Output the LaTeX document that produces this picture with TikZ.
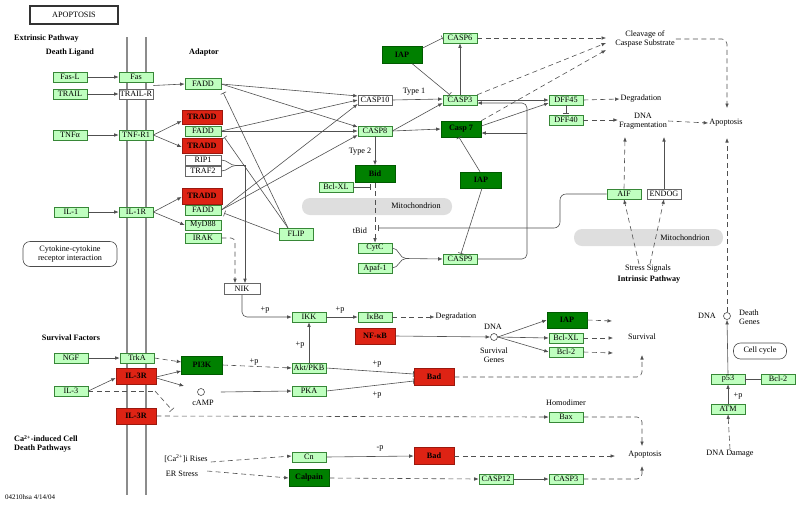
\documentclass[tikz,border=0pt]{standalone}
\usepackage{fontspec}
\setmainfont{Liberation Serif}
\usetikzlibrary{arrows.meta,calc}
\definecolor{lgreen}{RGB}{191,255,191}
\definecolor{bgreen}{RGB}{55,135,55}
\definecolor{kred}{RGB}{222,35,20}
\definecolor{dgreen}{RGB}{0,128,0}
\definecolor{lc}{RGB}{80,80,80}
\definecolor{mitogray}{RGB}{222,222,222}
\newcommand\myfs{\fontsize{8.2}{8.6}\selectfont}
\newcommand\myfsb{\fontsize{8.2}{8.6}\selectfont\bfseries}
\begin{document}
\begin{tikzpicture}[x=1pt,y=-1pt,
  box/.style={draw=bgreen, line width=0.6pt, minimum width=34, minimum height=10, inner sep=0pt, font=\myfs},
  gn/.style={box, fill=lgreen},
  wn/.style={box, fill=white, draw=black!60},
  rdn/.style={box, fill=kred, draw=kred!70!black, minimum width=40, minimum height=16, font=\myfsb},
  dgn/.style={box, fill=dgreen, draw=dgreen!70!black, minimum width=40, minimum height=16, font=\myfsb},
  lbl/.style={inner sep=1pt, font=\myfs, align=center},
  hd/.style={inner sep=1pt, font=\myfsb, align=left},
  rbox/.style={draw=black!70, line width=0.6pt, rounded corners=7pt, font=\myfs, align=center, inner sep=1pt},
  ln/.style={draw=lc, line width=0.6pt},
  ar/.style={ln, -{Latex[length=4.5pt,width=3.6pt]}},
  da/.style={ar, dash pattern=on 5pt off 3.5pt},
  dl/.style={ln, dash pattern=on 5pt off 3.5pt},
  inh/.style={ln, -{Bar[width=6pt]}},
  memb/.style={draw=black!45, line width=2.6pt},
  circ/.style={circle, draw=black!70, line width=0.6pt, minimum size=7, inner sep=0pt}
]
\useasboundingbox (0,0) rectangle (800,507);
% membrane
\draw[memb] (127,37) -- (127,495);
\draw[memb] (146,37) -- (146,495);
% mitochondria
\fill[mitogray, rounded corners=8pt] (302,198) rectangle (452,215);
\fill[mitogray, rounded corners=8pt] (574,229) rectangle (723,246);
\node[lbl] (mito1) at (416,206) {Mitochondrion};
\node[lbl] (mito2) at (685,238) {Mitochondrion};

% title and headings
\node[draw=black!80, line width=1.1pt, minimum width=88, minimum height=18, font=\myfs] (title) at (74,15) {APOPTOSIS};
\node[hd, anchor=west] (extp) at (13,39) {Extrinsic Pathway};
\node[hd] (deathlig) at (70,53) {Death Ligand};
\node[hd] (adaptor) at (204,53) {Adaptor};
\node[hd] (survf) at (71,338) {Survival Factors};
\node[hd, anchor=north west, font=\myfsb] (cadp) at (13,434) {Ca\textsuperscript{2+}-induced Cell\\Death Pathways};
\node[lbl, anchor=west, font=\fontsize{7}{8}\selectfont] (code) at (4,497) {04210hsa 4/14/04};
\node[rbox, minimum width=94, minimum height=25] (cyto) at (70,254) {Cytokine-cytokine\\receptor interaction};
\node[rbox, minimum width=53, minimum height=16] (cellcyc) at (760,351) {Cell cycle};

% ligands / receptors
\node[gn] (fasl) at (70,77) {Fas-L};
\node[gn] (trail) at (70,94) {TRAIL};
\node[gn] (tnfa) at (70,135) {TNFα};
\node[gn] (fas) at (136,77) {Fas};
\node[wn] (trailr) at (136,94) {TRAIL-R};
\node[gn] (tnfr1) at (136,135) {TNF-R1};
\node[gn] (il1) at (71,212) {IL-1};
\node[gn] (il1r) at (136,212) {IL-1R};
\node[gn] (ngf) at (71,358) {NGF};
\node[gn] (trka) at (137,358) {TrkA};
\node[rdn] (il3r) at (136,376) {IL-3R};
\node[gn] (il3) at (71,391) {IL-3};
\node[rdn] (il3rb) at (136,416) {IL-3R};

% adaptors
\node[gn, minimum width=36, minimum height=11] (fadd1) at (203,84) {FADD};
\node[rdn, minimum height=14] (tradd1) at (202,117) {TRADD};
\node[gn, minimum width=36] (fadd2) at (203,131) {FADD};
\node[rdn, minimum height=15] (tradd2) at (202,146) {TRADD};
\node[wn, minimum width=36] (rip1) at (203,160) {RIP1};
\node[wn, minimum width=36] (traf2) at (203,171) {TRAF2};
\node[rdn, minimum height=16] (tradd3) at (202,196) {TRADD};
\node[gn, minimum width=36] (fadd3) at (203,210) {FADD};
\node[gn, minimum width=36] (myd88) at (203,225) {MyD88};
\node[gn, minimum width=36] (irak) at (203,238) {IRAK};
\node[gn, minimum height=12] (flip) at (296,234) {FLIP};
\node[wn, minimum width=36, minimum height=11] (nik) at (242,289) {NIK};
\node[gn] (ikk) at (309,317) {IKK};
\node[gn] (ikba) at (375,317) {IκBα};
\node[rdn] (nfkb) at (375,336) {NF-κB};

% caspases
\node[wn] (casp10) at (375,100) {CASP10};
\node[gn] (casp8) at (375,131) {CASP8};
\node[dgn, minimum height=17] (bid) at (375,174) {Bid};
\node[gn] (bclxl1) at (336,187) {Bcl-XL};
\node[gn] (cytc) at (375,248) {CytC};
\node[gn] (apaf1) at (375,268) {Apaf-1};
\node[gn] (casp9) at (460,259) {CASP9};
\node[dgn, minimum width=41] (iap2) at (481,180) {IAP};
\node[dgn, minimum height=17] (iap1) at (402,55) {IAP};
\node[gn] (casp6) at (460,38) {CASP6};
\node[gn] (casp3) at (460,100) {CASP3};
\node[dgn] (casp7) at (461,129) {Casp 7};
\node[gn] (dff45) at (566,100) {DFF45};
\node[gn] (dff40) at (566,120) {DFF40};
\node[gn] (aif) at (624,194) {AIF};
\node[wn] (endog) at (664,194) {ENDOG};

% right side
\node[gn] (p53) at (728,379) {p53};
\node[gn] (bcl2r) at (778,379) {Bcl-2};
\node[gn] (atm) at (728,409) {ATM};
\node[circ] (dna2) at (727,316) {};
\node[lbl] (dna2t) at (707,316) {DNA};
\node[lbl, anchor=west, align=left] (dgenes) at (738,317) {Death\\Genes};
\node[lbl] (pp7) at (738,396) {+p};
\node[lbl] (dnad) at (730,454) {DNA Damage};

% survival area
\node[dgn] (iap3) at (567,320) {IAP};
\node[gn] (bclxl2) at (566,338) {Bcl-XL};
\node[gn] (bcl2) at (566,352) {Bcl-2};
\node[circ] (dna1) at (494,337) {};
\node[lbl] (dna1t) at (493,327) {DNA};
\node[lbl] (sgenes) at (494,355) {Survival\\Genes};
\node[lbl] (degr2) at (456,317) {Degradation};
\node[rdn, minimum height=17] (bad1) at (434,377) {Bad};
\node[rdn, minimum height=17] (bad2) at (434,456) {Bad};
\node[gn] (bax) at (566,417) {Bax};
\node[lbl] (homod) at (566,403) {Homodimer};
\node[gn] (casp12) at (496,479) {CASP12};
\node[gn] (casp3b) at (566,479) {CASP3};
\node[lbl] (surv) at (642,337) {Survival};
\node[lbl] (apop3) at (645,455) {Apoptosis};

% PI3K area
\node[dgn, minimum width=41, minimum height=18] (pi3k) at (202,365) {PI3K};
\node[gn] (akt) at (309,368) {Akt/PKB};
\node[gn] (pka) at (309,391) {PKA};
\node[circ] (camp) at (201,392) {};
\node[lbl] (campt) at (203,403) {cAMP};
\node[gn] (cn) at (309,457) {Cn};
\node[dgn, minimum height=17] (calpain) at (309,478) {Calpain};
\node[lbl] (cari) at (186,459) {[Ca\textsuperscript{2+}]i Rises};
\node[lbl] (er) at (182,474) {ER Stress};

% text labels upper right
\node[lbl] (clv) at (645,39) {Cleavage of\\Caspase Substrate};
\node[lbl] (degr1) at (641,99) {Degradation};
\node[lbl] (dnaf) at (643,121) {DNA\\Fragmentation};
\node[lbl] (apop1) at (726,123) {Apoptosis};
\node[lbl] (ss) at (648,269) {Stress Signals};
\node[hd] (intp) at (649,280) {Intrinsic Pathway};
\node[lbl] (type1) at (414,92) {Type 1};
\node[lbl] (type2) at (360,152) {Type 2};
\node[lbl] (tbid) at (360,231) {tBid};
\node[lbl] (pp1) at (265,310) {+p};
\node[lbl] (pp2) at (340,310) {+p};
\node[lbl] (pp3) at (300,345) {+p};
\node[lbl] (pp4) at (254,362) {+p};
\node[lbl] (pp5) at (377,364) {+p};
\node[lbl] (pp6) at (377,395) {+p};
\node[lbl] (mp1) at (380,448) {-p};

% helper coordinates
\coordinate (rtj) at (236,165.5);
\coordinate (flt) at (288,228);
\coordinate (il3t) at (172,410);
\coordinate (il3k) at (155,391);
\coordinate (il3rend) at (184,386);
\coordinate (c1) at (606,38);
\coordinate (c2) at (606,43);
\coordinate (c3) at (606,50);
\coordinate (apt) at (727,108);
\coordinate (apb) at (727,138);
\coordinate (dfa) at (625,137);
\coordinate (dfb) at (664,137);
\coordinate (tbj) at (560,228);
\coordinate (tbt) at (378,228);
\coordinate (bxt) at (371,187);
\coordinate (cj) at (406,258.5);
\coordinate (lpb) at (527,259);
\coordinate (lpt) at (527,103);
\coordinate (lpm) at (527,133);
\coordinate (sv1) at (612,321);
\coordinate (sv2) at (613,338);
\coordinate (sv3) at (613,353);
\coordinate (sv4) at (642,355);
\coordinate (ap1c) at (642,446);
\coordinate (ap2) at (615,456);
\coordinate (ap3) at (642,466);

% ligand -> receptor
\draw[ar] (fasl) -- (fas);
\draw[ar] (trail) -- (trailr);
\draw[ar] (tnfa) -- (tnfr1);
\draw[ar] (il1) -- (il1r);
\draw[ar] (ngf) -- (trka);
\draw[ar] ($(fas.south east)!0.5!(trailr.north east)$) -- (fadd1.west);
\draw[ar] (tnfr1.east) -- ($(tradd1.west)+(0,4)$);
\draw[ar] (tnfr1.east) -- ($(tradd2.west)+(0,1)$);
\draw[ar] (il1r.east) -- ($(tradd3.west)+(0,1)$);
\draw[ar] (il1r.east) -- (myd88.west);

% FADD -> caspases
\draw[ar] (fadd1.east) -- ($(casp10.west)+(0,-4)$);
\draw[ar] (fadd1.east) -- ($(casp8.west)+(0,-4)$);
\draw[ar] (fadd2.east) -- (casp10.west);
\draw[ar] (fadd2.east) -- (casp8.west);
\draw[ar] (fadd3.east) -- ($(casp10.west)+(0,4)$);
\draw[ar] (fadd3.east) -- ($(casp8.west)+(0,4)$);
% FLIP inhibition
\draw[inh] (flt) -- ($(fadd1.south east)+(2,3)$);
\draw[inh] (flt) -- ($(fadd2.south east)+(3,1)$);
\draw[inh] (flip.west) -- ($(fadd3.south east)+(3,-2)$);
% RIP1/TRAF2 -> NIK
\draw[ln] (rip1.east) to[out=0,in=180] (rtj);
\draw[ln] (traf2.east) to[out=0,in=180] (rtj);
\draw[ar] (rtj) -| ($(nik.north)+(3,0)$);
\draw[da, rounded corners=4pt] (irak.east) -| ($(nik.north)+(-7,0)$);
\draw[ar, rounded corners=5pt] (nik.south) |- (ikk.west);
\draw[ar] (ikk) -- (ikba);
\draw[da] (ikba.east) -- (degr2.west);
\draw[ar] (akt.north) -- (ikk.south);
\draw[ar] (nfkb.east) -- (dna1.west);
\draw[ar] (dna1.east) -- (iap3.west);
\draw[ar] (dna1.east) -- (bclxl2.west);
\draw[ar] (dna1.east) -- (bcl2.west);
\draw[da] (iap3.east) -- (sv1);
\draw[da] (bclxl2.east) -- (sv2);
\draw[da] (bcl2.east) -- (sv3);
\draw[da, rounded corners=5pt] (bad1.east) -| (sv4);

% survival factors
\draw[da] (trka.east) -- ($(pi3k.west)+(0,-3)$);
\draw[ar] ($(il3r.east)+(0,1)$) -- ($(pi3k.west)+(0,6)$);
\draw[ar] ($(il3r.east)+(0,2)$) -- (il3rend);
\draw[ar] (il3.east) -- ($(il3r.west)+(0,2)$);
\draw[dl] (il3.east) -- (il3k);
\draw[inh, dash pattern=on 5pt off 3.5pt] (il3k) -- (il3t);
\draw[da] (il3rb.east) -- (bax.west);
\draw[da, rounded corners=5pt] (bax.east) -| (ap1c);
\draw[da] (pi3k.east) -- (akt.west);
\draw[ar] ($(camp.east)+(16,0)$) -- (pka.west);
\draw[inh] (akt.east) -- ($(bad1.west)+(0,-3)$);
\draw[inh] (pka.east) -- ($(bad1.west)+(0,4)$);

% Ca pathways
\draw[da] ($(cari.east)+(2,3)$) -- ($(cn.west)+(0,-1)$);
\draw[da] ($(er.east)+(8,-3)$) -- (calpain.west);
\draw[ar] (cn.east) -- (bad2.west);
\draw[da] (bad2.east) -- (ap2);
\draw[da] (calpain.east) -- (casp12.west);
\draw[ar] (casp12) -- (casp3b);
\draw[da, rounded corners=5pt] (casp3b.east) -| (ap3);

% caspase cascade
\draw[ar] (casp10.east) -- ($(casp3.west)+(0,-1)$);
\draw[ar] (casp8.east) -- ($(casp3.west)+(0,3)$);
\draw[ar] (casp8.east) -- (casp7.west);
\draw[ar] (casp8.south) -- (bid.north);
\draw[ar] (casp3.north) -- (casp6.south);
\draw[inh] ($(iap1.north east)+(0,2)$) -- (casp6.west);
\draw[inh] ($(iap1.south east)+(-10,0)$) -- ($(casp3.north west)+(7,0)$);
\draw[da] (casp6.east) -- (c1);
\draw[da] (casp3.north east) -- (c2);
\draw[da] (casp7.north east) -- (c3);
\draw[ar] (casp3.east) -- (dff45.west);
\draw[ar] ($(casp7.east)+(0,-3)$) -- ($(dff45.west)+(0,3)$);
\draw[inh, shorten >=1pt] (dff45.south) -- (dff40.north);
\draw[da] (dff45.east) -- (degr1.west);
\draw[da] (dff40.east) -- ($(dnaf.west)+(0,-1)$);
\draw[da] (dnaf.east) -- (apop1.west);
\draw[da, rounded corners=5pt] (clv.east) -| (apt);
\draw[da] (dna2.north) -- (apb);
\draw[da] (aif.north) -- (dfa);
\draw[ar] (endog.north) -- (dfb);
\draw[da] ($(ss.north)+(-9,0)$) -- (aif.south);
\draw[da] ($(ss.north)+(2,0)$) -- (endog.south);
\draw[inh, rounded corners=6pt] (aif.west) -| (tbj) -- (tbt);

% mitochondrial
\draw[da] (bid.south) -- (cytc.north);
\draw[inh] (bclxl1.east) -- (bxt);
\draw[ln] (cytc.east) to[out=0,in=180] (cj);
\draw[ln] (apaf1.east) to[out=0,in=180] (cj);
\draw[ar] (cj) -- (casp9.west);
\draw[inh] ($(iap2.south)+(1,0)$) -- ($(casp9.north)+(1,0)$);
\draw[inh] ($(iap2.north)+(-1,0)$) -- ($(casp7.south)+(-2,0)$);
\draw[ar, rounded corners=5pt] (casp9.east) -- (lpb) -- (lpt) -- ($(casp3.east)+(0,3)$);
\draw[ar] (lpm) -- ($(casp7.east)+(0,4)$);

% p53
\draw[ar] (p53.north) -- (dna2.south);
\draw[inh] (bcl2r.west) -- (p53.east);
\draw[ar] (atm.north) -- (p53.south);
\draw[da] (dnad.north) -- (atm.south);
\end{tikzpicture}
\end{document}
